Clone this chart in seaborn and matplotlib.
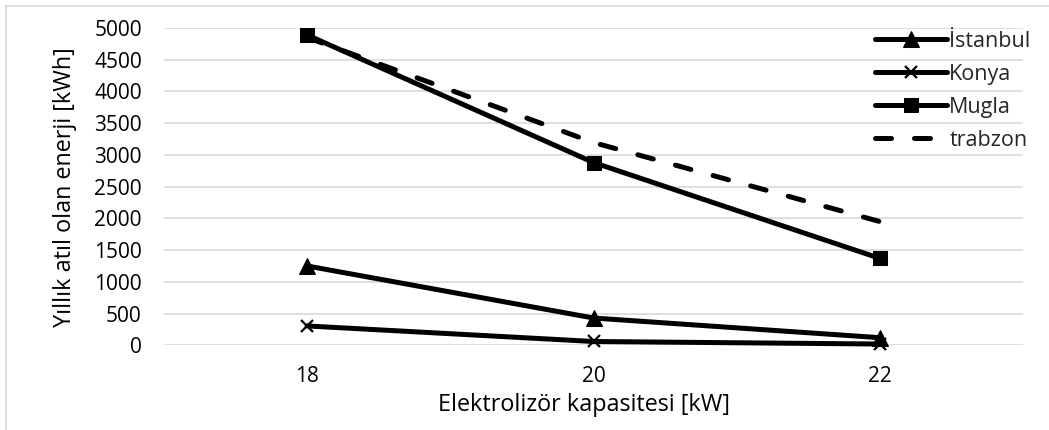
import matplotlib
matplotlib.use("Agg")
import matplotlib.pyplot as plt
import seaborn as sns
import pandas as pd
from matplotlib.lines import Line2D

categories = ["18", "20", "22"]
istanbul = [1250, 430, 120]
konya = [305, 60, 20]
mugla = [4890, 2880, 1370]
trabzon = [4850, 3195, 1950]

sns.set_theme(style="white")
plt.rcParams["font.family"] = ["Open Sans", "DejaVu Sans"]

fig = plt.figure(figsize=(10.49, 4.30), dpi=100)
ax = fig.add_axes([164 / 1049, 1 - 345.3 / 430, (1023 - 164) / 1049, (345.3 - 28) / 430])

x = list(range(len(categories)))
lw = 3.6
sns.lineplot(x=x, y=istanbul, ax=ax, color="black", lw=lw, marker="^", markersize=11,
             markeredgecolor="black", label="İstanbul", clip_on=False)
sns.lineplot(x=x, y=konya, ax=ax, color="black", lw=lw, marker="x", markersize=9,
             markeredgewidth=1.6, markeredgecolor="black", label="Konya", clip_on=False)
sns.lineplot(x=x, y=mugla, ax=ax, color="black", lw=lw, marker="s", markersize=10.5,
             markeredgecolor="black", label="Mugla", clip_on=False)
sns.lineplot(x=x, y=trabzon, ax=ax, color="black", lw=lw, label="trabzon", clip_on=False)
tl = ax.lines[-1]
tl.set_dashes([3.2, 4.6])
tl.set_dash_capstyle("round")

ax.set_xlim(-0.5, 2.5)
ax.set_ylim(0, 5000)
ax.set_yticks(range(0, 5001, 500))
ax.set_xticks(x)
ax.set_xticklabels(categories)
ax.grid(axis="y", color="#d9d9d9", lw=1.2)
ax.set_axisbelow(True)
for s in ax.spines.values():
    s.set_visible(False)
ax.tick_params(axis="both", length=0, labelsize=15, colors="black")
ax.tick_params(axis="y", pad=16)
ax.tick_params(axis="x", pad=15)
ax.set_xlabel("Elektrolizör kapasitesi [kW]", fontsize=16.8, labelpad=4, color="black")
ax.set_ylabel("Yıllık atıl olan enerji [kWh]", fontsize=16.8, labelpad=12, color="black")
ax.xaxis.label.set_x((584 - 164) / 859)

leg = ax.legend(loc="upper left", bbox_to_anchor=(875 / 1049, 1 - 31 / 430),
                bbox_transform=fig.transFigure, frameon=False, fontsize=15.5,
                handlelength=3.35, handletextpad=0.1, labelspacing=0.55, borderpad=0,
                borderaxespad=0)

fig.add_artist(Line2D([6 / 1049, 6 / 1049], [0, 1 - 6 / 430], transform=fig.transFigure,
                      color="#d9d9d9", lw=1.2))
fig.add_artist(Line2D([6 / 1049, 1], [1 - 6 / 430, 1 - 6 / 430], transform=fig.transFigure,
                      color="#d9d9d9", lw=1.2))

fig.savefig("out.png", dpi=100)
